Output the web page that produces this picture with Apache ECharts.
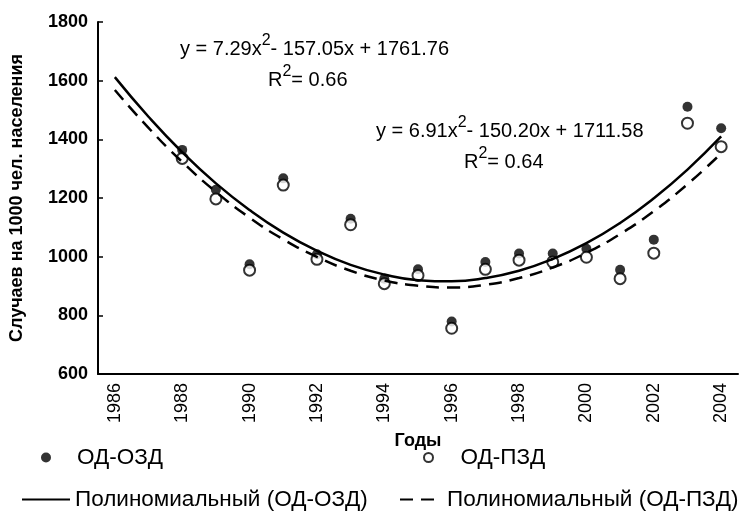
<!DOCTYPE html>
<html>
<head>
<meta charset="utf-8">
<script src="https://cdn.jsdelivr.net/npm/echarts@6/dist/echarts.min.js"></script>
<style>
  html, body { margin: 0; padding: 0; background: #fff; }
  #main { width: 743px; height: 524px; }
</style>
</head>
<body>
<div id="main"></div>
<script>
var years = ['1986', '1987', '1988', '1989', '1990', '1991', '1992', '1993', '1994', '1995',
  '1996', '1997', '1998', '1999', '2000', '2001', '2002', '2003', '2004'];

// ОД-ОЗД (filled) and ОД-ПЗД (open), no data for 1986-1987
var ozd = ['-', '-', 1364, 1228, 974, 1267, 1008, 1129, 925, 957, 779, 982, 1011, 1011, 1027, 955, 1058, 1511, 1438];
var pzd = ['-', '-', 1335, 1197, 954, 1244, 991, 1109, 908, 936, 756, 957, 988, 982, 998, 925, 1012, 1455, 1375];

// polynomial trend lines read at each year
var trendOzd = [1612, 1477, 1356, 1250, 1159, 1082, 1020, 972, 939, 920, 916, 927, 952, 992, 1046, 1115, 1199, 1297, 1410];
var trendPzd = [1568, 1439, 1323, 1221, 1133, 1059, 999, 952, 919, 901, 895, 904, 927, 963, 1013, 1077, 1155, 1247, 1352];

var names = ['ОД-ОЗД', 'ОД-ПЗД', 'Полиномиальный (ОД-ОЗД)', 'Полиномиальный (ОД-ПЗД)'];

var sans = '"Liberation Sans", Arial, sans-serif';

var chartDom = document.getElementById('main');
var myChart = echarts.init(chartDom);
var option;

var legendText = { fontFamily: sans, fontSize: 22.5, color: '#000' };
var noDot = { opacity: 0 };

// rich text for the equations
var eqRich = {
  n: { fontFamily: sans, fontSize: 20, color: '#000', verticalAlign: 'bottom', lineHeight: 26 },
  s: { fontFamily: sans, fontSize: 16, color: '#000', verticalAlign: 'top', lineHeight: 26 }
};

option = {
  animation: false,
  grid: { left: 98, right: 5, top: 22, bottom: 150 },
  legend: [
    { data: [names[0]], left: 36, top: 441, itemWidth: 52, itemHeight: 10, textStyle: legendText },
    { data: [names[1]], left: 418, top: 441, itemWidth: 54, itemHeight: 9, textStyle: legendText },
    { data: [names[2]], left: 16, top: 483, itemWidth: 48, itemHeight: 12, itemStyle: noDot, textStyle: legendText },
    { data: [names[3]], left: 394, top: 483, itemWidth: 42, itemHeight: 12, itemStyle: noDot, textStyle: legendText }
  ],
  xAxis: {
    type: 'category',
    data: years,
    boundaryGap: true,
    name: 'Годы',
    nameLocation: 'middle',
    nameGap: 58,
    nameTextStyle: { fontFamily: sans, fontSize: 18, fontWeight: 'bold', color: '#000' },
    axisLine: { lineStyle: { color: '#000', width: 2 } },
    axisTick: { inside: true, length: 5, interval: 0, lineStyle: { color: '#000', width: 1.5 } },
    axisLabel: { interval: 1, rotate: 90, fontFamily: sans, fontSize: 18, color: '#000', margin: 9 }
  },
  yAxis: {
    type: 'value',
    min: 600,
    max: 1800,
    interval: 200,
    name: 'Случаев на 1000 чел. населения',
    nameLocation: 'middle',
    nameGap: 72,
    nameTextStyle: { fontFamily: sans, fontSize: 18, fontWeight: 'bold', color: '#000' },
    axisLine: { show: true, lineStyle: { color: '#000', width: 2 } },
    axisTick: { show: true, inside: true, length: 5, lineStyle: { color: '#000', width: 1.5 } },
    splitLine: { show: false },
    axisLabel: {
      fontFamily: sans, fontSize: 18, fontWeight: 'bold', color: '#000', margin: 10,
      formatter: function (v) { return String(v); }
    }
  },
  series: [
    {
      name: names[0],
      type: 'scatter',
      data: ozd,
      symbol: 'circle',
      symbolSize: 10,
      itemStyle: { color: '#000' },
      z: 2
    },
    {
      name: names[1],
      type: 'scatter',
      data: pzd,
      symbol: 'circle',
      symbolSize: 11,
      itemStyle: { color: '#fff', borderColor: '#000', borderWidth: 2 },
      z: 3
    },
    {
      name: names[2],
      type: 'line',
      data: trendOzd,
      smooth: true,
      symbol: 'none',
      itemStyle: { color: '#000' },
      lineStyle: { color: '#000', width: 2.5 },
      z: 4
    },
    {
      name: names[3],
      type: 'line',
      data: trendPzd,
      smooth: true,
      symbol: 'none',
      itemStyle: { color: '#000' },
      lineStyle: { color: '#000', width: 2.5, type: [13, 8] },
      z: 4
    }
  ],
  graphic: [
    { type: 'text', left: 180, top: 33, style: { text: '{n|y = 7.29x}{s|2}{n|- 157.05x + 1761.76}', rich: eqRich } },
    { type: 'text', left: 268, top: 64, style: { text: '{n|R}{s|2}{n|= 0.66}', rich: eqRich } },
    { type: 'text', left: 376, top: 115, style: { text: '{n|y = 6.91x}{s|2}{n|- 150.20x + 1711.58}', rich: eqRich } },
    { type: 'text', left: 464, top: 146, style: { text: '{n|R}{s|2}{n|= 0.64}', rich: eqRich } }
  ]
};

option && myChart.setOption(option);
</script>
</body>
</html>
